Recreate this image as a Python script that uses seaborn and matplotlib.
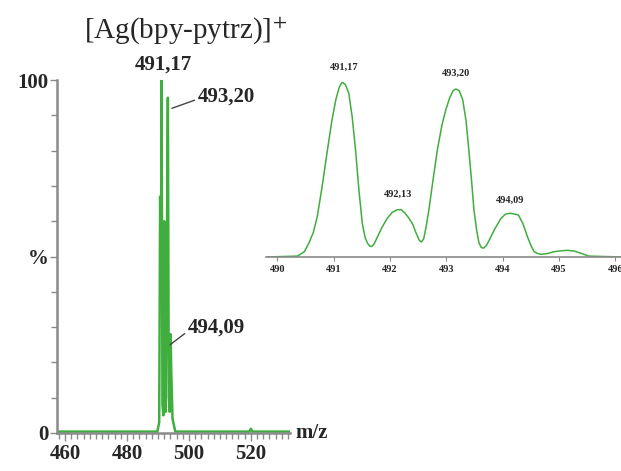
import matplotlib
matplotlib.use("Agg")
import matplotlib.pyplot as plt
import seaborn as sns
import pandas as pd

# full-range spectrum (m/z, relative intensity %)
main_mz = [457.4, 489.8, 490.4, 490.7, 490.95, 491.17, 491.45, 491.75, 492.0, 492.2,
           492.5, 492.8, 493.2, 493.5, 493.8, 494.09, 494.3, 494.7, 495.2, 495.6,
           519.5, 520.0, 520.5, 532.6]
main_int = [0.4, 0.4, 3, 67, 42, 100, 8, 5, 60, 52,
            6, 42, 95, 10, 6, 28, 17, 4, 2, 0.4,
            0.4, 1.2, 0.4, 0.4]

# zoomed isotope pattern
zoom_mz = [489.82, 490.36, 490.48, 490.56, 490.64, 490.71, 490.80, 490.89, 490.97, 491.04,
           491.10, 491.15, 491.21, 491.27, 491.33, 491.39, 491.45, 491.51, 491.56, 491.60,
           491.64, 491.68, 491.72, 491.78, 491.86, 491.95, 492.04, 492.13, 492.20, 492.27,
           492.34, 492.40, 492.46, 492.52, 492.56, 492.60, 492.64, 492.69, 492.76, 492.84,
           492.92, 492.99, 493.06, 493.12, 493.17, 493.23, 493.29, 493.35, 493.40, 493.45,
           493.49, 493.54, 493.58, 493.62, 493.66, 493.71, 493.76, 493.86, 493.97, 494.05,
           494.13, 494.21, 494.28, 494.36, 494.44, 494.51, 494.56, 494.62, 494.68, 494.80,
           494.91, 495.03, 495.15, 495.27, 495.40, 495.53, 496.1]
zoom_int = [0, 0.5, 3, 7.8, 14, 23, 41, 61, 78, 90,
            97, 100, 98.5, 93.5, 80, 61, 38, 19, 11, 8,
            6.2, 6, 7.5, 11.6, 17, 22, 25.5, 27, 27, 25,
            22, 19, 14, 9.5, 8.6, 10.5, 17, 26.7, 43, 61,
            75, 84, 91, 95, 96, 95, 90, 78, 61, 43,
            27, 15, 8, 5.5, 5, 6.5, 9.5, 16, 22, 24.5,
            25, 24.5, 24, 19, 11.6, 6, 3, 2, 1.5, 2,
            3, 3.5, 3.8, 3.4, 2, 0.5, 0]

main_ticks = [460, 480, 500, 520]
zoom_ticks = [490, 491, 492, 493, 494, 495, 496]
zoom_labels = {"491,17": (491.18, 105.7), "492,13": (492.14, 33.0),
               "493,20": (493.17, 102.3), "494,09": (494.13, 29.7)}

sns.set_theme(style="white")
plt.rcParams["font.family"] = ["Liberation Serif", "DejaVu Serif"]
plt.rcParams["mathtext.fontset"] = "stix"

green = "#3fae3f"
axis_grey = "#8a8a8a"

fig = plt.figure(figsize=(6.21, 4.71), dpi=100)

# main spectrum
ax = fig.add_axes([0.0918, 0.0807, 0.375, 0.7493])
df_main = pd.DataFrame({"mz": main_mz, "intensity": main_int})
sns.lineplot(data=df_main, x="mz", y="intensity", ax=ax, color=green,
             linewidth=1.8, sort=False, estimator=None)
ax.set_xlim(457.4, 532.6)
ax.set_ylim(0, 100)
for s in ["top", "right"]:
    ax.spines[s].set_visible(False)
for s in ["left", "bottom"]:
    ax.spines[s].set_color(axis_grey)
    ax.spines[s].set_linewidth(1.8)
ax.set_xlabel("")
ax.set_ylabel("")
ax.set_xticks(main_ticks)
ax.set_xticklabels([str(t) for t in main_ticks], fontsize=15, fontweight="bold")
ax.set_xticks(range(458, 533, 2), minor=True)
ax.set_yticks([0, 50, 100])
ax.set_yticklabels(["0", "%", "100"], fontsize=15, fontweight="bold")
ax.set_yticks(range(0, 101, 10), minor=True)
ax.tick_params(axis="both", which="both", direction="out", color=axis_grey,
               width=1, bottom=True, left=True)
ax.tick_params(axis="x", which="major", length=6, pad=2)
ax.tick_params(axis="x", which="minor", length=4)
ax.tick_params(axis="y", which="major", length=5, pad=1)
ax.tick_params(axis="y", which="minor", length=4)

ax.text(491.6, 101.5, "491,17", ha="center", va="bottom", fontsize=15,
        fontweight="bold", clip_on=False)
ax.annotate("493,20", xy=(494.5, 92), xytext=(502.9, 95.2), va="center",
            ha="left", fontsize=15, fontweight="bold",
            arrowprops=dict(arrowstyle="-", color="#444444", lw=1.0,
                            shrinkA=0, shrinkB=0, relpos=(0, 0.4)))
ax.annotate("494,09", xy=(493.9, 25), xytext=(499.7, 30), va="center",
            ha="left", fontsize=15, fontweight="bold",
            arrowprops=dict(arrowstyle="-", color="#444444", lw=1.0,
                            shrinkA=0, shrinkB=0, relpos=(0, 0.3)))
ax.text(534.5, 0, "m/z", ha="left", va="center", fontsize=15,
        fontweight="bold", clip_on=False)

# zoomed isotope pattern
ax2 = fig.add_axes([0.4283, 0.4544, 0.5717, 0.3715])
df_zoom = pd.DataFrame({"mz": zoom_mz, "intensity": zoom_int})
sns.lineplot(data=df_zoom, x="mz", y="intensity", ax=ax2, color=green,
             linewidth=1.1, sort=False, estimator=None)
ax2.set_xlim(489.8, 496.1)
ax2.set_ylim(0, 100)
for s in ["top", "right", "left"]:
    ax2.spines[s].set_visible(False)
ax2.spines["bottom"].set_color(axis_grey)
ax2.spines["bottom"].set_linewidth(1.2)
ax2.set_xlabel("")
ax2.set_ylabel("")
ax2.set_yticks([])
ax2.set_xticks(zoom_ticks)
ax2.set_xticklabels([str(t) for t in zoom_ticks], fontsize=7.5, fontweight="bold")
ax2.tick_params(axis="x", direction="out", length=3, width=0.8,
                color=axis_grey, pad=3, bottom=True)
for lab, (x, y) in zoom_labels.items():
    ax2.text(x, y, lab, ha="center", va="bottom", fontsize=7.5,
             fontweight="bold", clip_on=False)

fig.text(0.298, 0.935, "[Ag(bpy-pytrz)]$^{+}$", ha="center", va="center",
         fontsize=21)

fig.savefig("out.png", dpi=100)
